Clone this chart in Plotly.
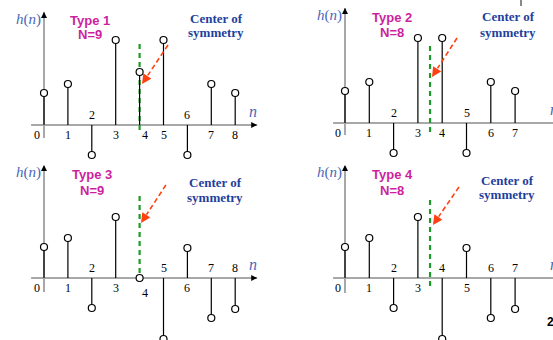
import plotly.graph_objects as go

W, H = 553, 340

# ---- data ----
n_type1 = list(range(9))
h_type1 = [32, 41, -30, 85, 53, 85, -30, 41, 32]
n_type2 = list(range(8))
h_type2 = [32, 41, -30, 85, 85, -30, 41, 32]
n_type3 = list(range(9))
h_type3 = [31, 40, -30, 61, 0, -61, 30, -40, -31]
n_type4 = list(range(8))
h_type4 = [31, 40, -30, 61, -61, 30, -40, -31]

panel_titles = ["Type 1", "Type 2", "Type 3", "Type 4"]
panel_N = ["N=9", "N=8", "N=9", "N=8"]
centers = [4, 3.5, 4, 3.5]

panels = [
    dict(n=n_type1, h=h_type1, x0=44, dx=23.9, base=125, top=0,
         yax=(-13, 113), xax=(-0.54, 8.92)),
    dict(n=n_type2, h=h_type2, x0=345, dx=24.3, base=123, top=0,
         yax=(-12, 115), xax=(-0.49, 9.2)),
    dict(n=n_type3, h=h_type3, x0=44, dx=23.9, base=278, top=170,
         yax=(-14, 113), xax=(-0.54, 8.92)),
    dict(n=n_type4, h=h_type4, x0=345, dx=24.3, base=278, top=170,
         yax=(-15, 113), xax=(-0.49, 9.2)),
]
# green line extents and red arrow (start, end) in data units
green_ext = [(-5, 83), (-9, 80), (-4, 83), (-8, 81)]
red_arrows = [((5.19, 80), (4.1, 41)), ((4.61, 85), (3.58, 46)),
              ((5.1, 93), (4.06, 55)), ((4.69, 91), (3.62, 53))]

fig = go.Figure()
shapes = []
annotations = []

for i, p in enumerate(panels):
    k = i + 1
    xa = "x" if k == 1 else f"x{k}"
    ya = "y" if k == 1 else f"y{k}"
    left_px = 0 if p["x0"] < 276 else 276
    right_px = 276 if left_px == 0 else W
    xr = [(left_px - p["x0"]) / p["dx"], (right_px - p["x0"]) / p["dx"]]
    top_px = p["top"]
    bot_px = top_px + 170
    yr = [p["base"] - bot_px, p["base"] - top_px]
    xdom = [left_px / W, right_px / W]
    ydom = [1 - bot_px / H, 1 - top_px / H]
    lay = dict(domain=xdom, range=xr, visible=False, fixedrange=True)
    lay_y = dict(domain=ydom, range=yr, visible=False, fixedrange=True)
    fig.update_layout(**{("xaxis" if k == 1 else f"xaxis{k}"): dict(lay, anchor=ya),
                         ("yaxis" if k == 1 else f"yaxis{k}"): dict(lay_y, anchor=xa)})

    # axes (gray lines + black arrowheads)
    shapes.append(dict(type="line", xref=xa, yref=ya, x0=0, x1=0,
                       y0=p["yax"][0], y1=p["yax"][1],
                       line=dict(color="#a8a8a8", width=2), layer="below"))
    shapes.append(dict(type="line", xref=xa, yref=ya, x0=p["xax"][0], x1=p["xax"][1],
                       y0=0, y1=0, line=dict(color="#a8a8a8", width=2), layer="below"))
    annotations.append(dict(xref=xa, yref=ya, x=0, y=p["yax"][1], ax=0, ay=p["yax"][1] - 6,
                            axref=xa, ayref=ya, showarrow=True, arrowhead=2, arrowsize=1,
                            arrowwidth=1.2, arrowcolor="black", text=""))
    annotations.append(dict(xref=xa, yref=ya, x=p["xax"][1], y=0, ax=p["xax"][1] - 0.25, ay=0,
                            axref=xa, ayref=ya, showarrow=True, arrowhead=2, arrowsize=1,
                            arrowwidth=1.2, arrowcolor="black", text=""))

    # green dashed center line
    g0, g1 = green_ext[i]
    fig.add_trace(go.Scatter(x=[centers[i], centers[i]], y=[g0, g1], mode="lines",
                             line=dict(color="#1f9a2a", width=2.2, dash="5px,4px"),
                             xaxis=xa, yaxis=ya, showlegend=False, hoverinfo="skip"))

    # stems
    sx, sy = [], []
    for n, h in zip(p["n"], p["h"]):
        sx += [n, n, None]
        sy += [0, h, None]
    fig.add_trace(go.Scatter(x=sx, y=sy, mode="lines", line=dict(color="black", width=1.2),
                             xaxis=xa, yaxis=ya, showlegend=False, hoverinfo="skip"))
    fig.add_trace(go.Scatter(x=p["n"], y=p["h"], mode="markers",
                             marker=dict(symbol="circle", size=7, color="white",
                                         line=dict(color="black", width=1.2)),
                             xaxis=xa, yaxis=ya, showlegend=False, cliponaxis=False))

    # red dashed arrow
    (rx0, ry0), (rx1, ry1) = red_arrows[i]
    fx = rx1 + (rx0 - rx1) * 0.22
    fy = ry1 + (ry0 - ry1) * 0.22
    fig.add_trace(go.Scatter(x=[rx0, fx], y=[ry0, fy], mode="lines",
                             line=dict(color="#ff4010", width=1.6, dash="5px,3px"),
                             xaxis=xa, yaxis=ya, showlegend=False, hoverinfo="skip"))
    annotations.append(dict(xref=xa, yref=ya, x=rx1, y=ry1, ax=fx, ay=fy, axref=xa, ayref=ya,
                            showarrow=True, arrowhead=2, arrowsize=1.2, arrowwidth=1.6,
                            arrowcolor="#ff4010", text=""))

    # tick labels
    for n, h in zip(p["n"], p["h"]):
        xs, ys = 0, (-10 if h >= 0 else 10)
        if n == 0:
            xs = -7
        if n == centers[i] and h >= 0:
            xs = 5
            if h == 0:
                ys = -15
        annotations.append(dict(xref=xa, yref=ya, x=n, y=0, xshift=xs, yshift=ys,
                                xanchor="center", yanchor="middle",
                                text=str(n), showarrow=False,
                                font=dict(family="Liberation Serif", size=12, color="black")))

    # axis labels
    annotations.append(dict(xref=xa, yref=ya, x=0, y=p["yax"][1] - 7, xshift=-16,
                            xanchor="center", yanchor="middle",
                            text="<i>h</i>(<i>n</i>)", showarrow=False,
                            font=dict(family="Liberation Serif", size=15, color="#4a68b8")))
    nx = min(p["xax"][1], xr[1] - 0.02)
    nshift = -4 if p["xax"][1] < xr[1] else 1
    annotations.append(dict(xref=xa, yref=ya, x=nx, y=0, xshift=nshift, yshift=14,
                            xanchor="center", yanchor="middle",
                            text="<i>n</i>", showarrow=False,
                            font=dict(family="Liberation Serif", size=16, color="#4a68b8")))

# panel texts in pixel positions (converted to paper)
def px(x, y):
    return x / W, 1 - y / H

title_pos = [(90, 20, 35), (392, 17, 33), (92, 175, 190), (392, 174, 190)]
center_pos = [(216, 18, 33), (508, 16, 32), (215, 182, 197), (507, 180, 194)]
for i in range(4):
    tx, t1, t2 = title_pos[i]
    for txt, ty in ((panel_titles[i], t1), (panel_N[i], t2)):
        X, Y = px(tx, ty)
        annotations.append(dict(xref="paper", yref="paper", x=X, y=Y, text=f"<b>{txt}</b>",
                                xanchor="center", yanchor="middle",
                                showarrow=False, font=dict(family="Liberation Sans", size=13,
                                                           color="#cc1f9e")))
    cx, c1, c2 = center_pos[i]
    for txt, cy in (("Center of", c1), ("symmetry", c2)):
        X, Y = px(cx, cy)
        annotations.append(dict(xref="paper", yref="paper", x=X, y=Y, text=f"<b>{txt}</b>",
                                xanchor="center", yanchor="middle",
                                showarrow=False, font=dict(family="Liberation Serif", size=13,
                                                           color="#1f3f9c")))

# slide artifacts: page number and small bar
X, Y = px(545, 322)
annotations.append(dict(xref="paper", yref="paper", x=X, y=Y, xanchor="left", yanchor="middle",
                        text="<b>2</b>", showarrow=False,
                        font=dict(family="Liberation Sans", size=12, color="black")))
shapes.append(dict(type="line", xref="paper", yref="paper", x0=521 / W, x1=521 / W,
                   y0=1, y1=1 - 6 / H, line=dict(color="#888888", width=2)))

fig.update_layout(width=W, height=H, margin=dict(l=0, r=0, t=0, b=0),
                  paper_bgcolor="white", plot_bgcolor="white",
                  shapes=shapes, annotations=annotations, showlegend=False)
fig.write_html("out.html", config={"displayModeBar": False},
               post_script="document.body.style.margin='0';document.body.style.overflow='hidden';")
